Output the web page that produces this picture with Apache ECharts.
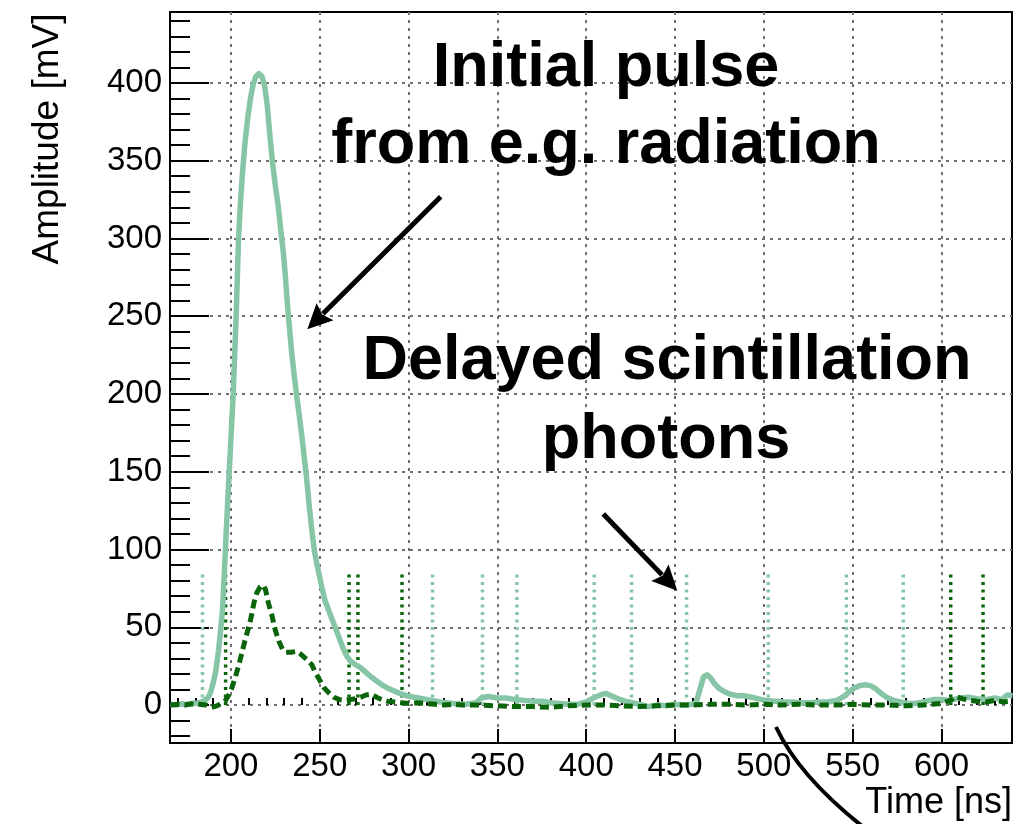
<!DOCTYPE html>
<html><head><meta charset="utf-8">
<script src="https://cdn.jsdelivr.net/npm/echarts@6/dist/echarts.min.js"></script>
<style>html,body{margin:0;padding:0;background:#fff}#chart{width:1016px;height:824px}</style>
</head><body><div id="chart"></div>
<script>
// ---- data ----
const lightPulse = [
[166,0.5],[169,0],[172,0.8],[175,0.3],[178,1],[181,1.2],[183,1.8],[185,2.8],[187,4.5],[188.5,8],[190,14],[191.5,22],[193,35],[194.2,48],[195.3,62],[196.5,90],[197.5,115],[198.5,138],[199.5,160],[200.5,183],[201.3,200],[202.2,228],[203,252],[203.6,275],[204.3,300],[205.3,322],[206.5,342],[207.8,360],[209.5,378],[211,390],[212.5,399],[214,404],[215.8,406],[217.5,404],[219,398],[220.5,385],[222,365],[223.5,348],[225,334],[226.6,321],[228,306],[229.5,291],[230.5,278],[231.5,262],[232.5,248],[234,229],[235.5,213],[237,199],[238.5,186],[240,172],[241.5,157],[242.5,147],[244,129],[245.5,113],[247,99],[248.5,90],[250,82],[251.5,74],[253,67],[255,61],[257,55],[259,49],[261,43],[263,37],[265,32],[267,28.5],[270,26],[273,24],[276,21],[279,18],[282,15.5],[285,13],[288,11],[291,9.5],[295,7.5],[299,6],[303,5],[308,4],[313,3],[318,2],[325,1],[332,0.5],[338,1.5],[341,4.5],[345,5.5],[350,4.5],[355,4.5],[360,3.5],[365,3],[370,2.5],[375,2.5],[380,1.5],[385,1],[390,0.5],[395,0.5],[400,2],[404,4.5],[408,6.5],[411,7.5],[414,6],[418,4],[422,2.5],[426,1.5],[430,0.5],[435,-1],[440,0],[445,-0.5],[450,0.5],[455,0],[460,0.5],[462,2],[464,10],[466,18],[468,19.5],[470,17.5],[472,14],[475,10.5],[478,8.5],[481,7],[485,6],[489,6],[493,5],[497,4],[501,3],[506,2.5],[511,2],[516,2],[521,1.5],[526,1.5],[531,2],[536,2],[541,3],[545,5.5],[548,8.5],[551,11],[554,12.5],[557,13],[560,12.5],[563,10.5],[566,7.5],[569,5],[573,3],[577,2],[581,1],[585,1],[590,2],[595,3.5],[600,3.5],[605,3],[610,4.5],[615,5],[620,4],[625,3.5],[630,4.5],[634,3.5],[637,6.5],[640,6]
];
const darkPulse = [
[166,0],[170,0.5],[174,0],[178,0.8],[182,0.5],[186,0],[189,-1.5],[192,-0.5],[195,1],[197,3],[199,7],[200.5,11],[202.5,18],[204.5,26],[206.5,35],[208,42],[210,50],[211.5,57],[213,66],[214.5,72],[216.5,76],[218.2,77],[219.5,74],[221,66],[223,58],[225,48],[227,41],[229,36],[231,34],[234,34],[237,34.5],[239,33],[241,31],[243,29],[245.5,26],[247.5,21],[250,16],[252.5,11],[255.5,7.5],[258,5],[261,3.5],[264,3],[267,3.5],[270,4],[273,5],[276,6.5],[279,7],[282,5],[285,3.5],[288,2.5],[292,2],[296,1.5],[300,1],[305,1.5],[310,1],[315,0.5],[320,0],[325,0.5],[330,0],[340,0],[350,-0.5],[360,-1],[370,-1],[380,-1.5],[390,-0.5],[400,0],[410,0],[420,-0.5],[430,-1],[440,-0.5],[450,0],[460,0],[470,0.5],[480,0.5],[490,0],[500,0.5],[510,0],[520,0.5],[530,0],[540,0],[550,0.5],[560,0],[570,0],[580,-0.5],[590,0],[600,1],[605,3],[608,5.5],[612,4],[616,3],[620,2.5],[625,2],[630,3],[635,2],[640,2.5]
];
// times of the vertical dotted photon markers
const lightMarkTimes = [184, 313.5, 341.6, 361, 404.5, 425.5, 456.5, 502.5, 546.5, 578.5];
const darkMarkTimes = [197, 266.5, 271.5, 296.3, 605.2, 623.4];
const markHeight = 86;

// axes
const xRange = [165.7, 639.7];
const yRange = [-24.4, 445.6];
const xMajor = [200, 250, 300, 350, 400, 450, 500, 550, 600];
const xMinor = [170,180,190,210,220,230,240,260,270,280,290,310,320,330,340,360,370,380,390,410,420,430,440,460,470,480,490,510,520,530,540,560,570,580,590,610,620,630];
const yMajor = [0, 50, 100, 150, 200, 250, 300, 350, 400];
const yMinor = [-20,-10,10,20,30,40,60,70,80,90,110,120,130,140,160,170,180,190,210,220,230,240,260,270,280,290,310,320,330,340,360,370,380,390,410,420,430,440];

const xTitle = 'Time [ns]';
const yTitle = 'Amplitude [mV]';
const note1 = ['Initial pulse', 'from e.g. radiation'];
const note2 = ['Delayed scintillation', 'photons'];

// ---- styles ----
const LIGHT = '#86c6a6';
const DARK = '#0a650a';
const FONT = "'Liberation Sans', Arial, Helvetica, sans-serif";
const gridLine = { show: true, lineStyle: { color: '#707070', width: 2, type: [3, 5] } };

function markerData(times) {
  const out = [];
  times.forEach(t => { out.push([t, 0], [t, markHeight], [t, null]); });
  return out;
}

function arrow(x1, y1, tx, ty) {
  const dx = tx - x1, dy = ty - y1, len = Math.hypot(dx, dy);
  const ux = dx / len, uy = dy / len, px = -uy, py = ux;
  const hl = 25, hw = 12;
  const bx = tx - ux * hl, by = ty - uy * hl;
  return [
    { type: 'line', shape: { x1: x1, y1: y1, x2: bx + ux * 3, y2: by + uy * 3 },
      style: { stroke: '#000', lineWidth: 5 }, z: 100 },
    { type: 'polygon', shape: { points: [[tx, ty], [bx + px * hw, by + py * hw], [bx + ux * 4, by + uy * 4], [bx - px * hw, by - py * hw]] },
      style: { fill: '#000' }, z: 100 }
  ];
}

const chart = echarts.init(document.getElementById('chart'), null, { renderer: 'canvas' });
const noteFont = 'bold 63px ' + FONT;

chart.setOption({
  animation: false,
  backgroundColor: '#fff',
  grid: { left: 170, right: 4, top: 12, bottom: 81, show: true, borderColor: '#000', borderWidth: 2, backgroundColor: '#fff', outerBoundsMode: 'none', containLabel: false },
  xAxis: [
    { type: 'value', position: 'bottom', min: xRange[0], max: xRange[1],
      axisLine: { show: true, onZero: false, lineStyle: { color: '#000', width: 2 } },
      axisTick: { show: true, inside: true, length: 14, customValues: xMajor, lineStyle: { color: '#000', width: 2 } },
      axisLabel: { show: true, customValues: xMajor, color: '#000', fontSize: 33, fontFamily: FONT, margin: 7 },
      splitLine: gridLine, minorTick: { show: false }, minorSplitLine: { show: false } },
    { type: 'value', position: 'bottom', min: xRange[0], max: xRange[1],
      axisLine: { show: false },
      axisTick: { show: true, inside: true, length: 7, customValues: xMinor, lineStyle: { color: '#000', width: 2 } },
      axisLabel: { show: false }, splitLine: { show: false } }
  ],
  yAxis: [
    { type: 'value', position: 'left', min: yRange[0], max: yRange[1],
      axisLine: { show: true, onZero: false, lineStyle: { color: '#000', width: 2 } },
      axisTick: { show: true, inside: true, length: 39, customValues: yMajor, lineStyle: { color: '#000', width: 2 } },
      axisLabel: { show: true, customValues: yMajor, color: '#000', fontSize: 33, fontFamily: FONT, margin: 8 },
      splitLine: gridLine },
    { type: 'value', position: 'left', min: yRange[0], max: yRange[1],
      axisLine: { show: false },
      axisTick: { show: true, inside: true, length: 20, customValues: yMinor, lineStyle: { color: '#000', width: 2 } },
      axisLabel: { show: false }, splitLine: { show: false } }
  ],
  series: [
    { type: 'line', name: 'light markers', data: markerData(lightMarkTimes), connectNulls: false, symbol: 'none', z: 1,
      lineStyle: { color: LIGHT, width: 3.5, type: [3, 4.5] }, silent: true },
    { type: 'line', name: 'dark markers', data: markerData(darkMarkTimes), connectNulls: false, symbol: 'none', z: 1,
      lineStyle: { color: DARK, width: 3.5, type: [3, 4.5] }, silent: true },
    { type: 'line', name: 'light', data: lightPulse, symbol: 'none', z: 3,
      lineStyle: { color: LIGHT, width: 5.5, join: 'round' } },
    { type: 'line', name: 'dark', data: darkPulse, symbol: 'none', z: 4,
      lineStyle: { color: DARK, width: 5, type: [9, 5] } }
  ],
  graphic: [
    { type: 'text', x: 1012, y: 803, z: 100, style: { text: xTitle, font: '36px ' + FONT, fill: '#000', align: 'right', verticalAlign: 'middle' } },
    { type: 'text', x: 48, y: 139, rotation: Math.PI / 2, z: 100, style: { text: yTitle, font: '37px ' + FONT, fill: '#000', align: 'center', verticalAlign: 'middle' } },
    { type: 'text', x: 606, y: 69, z: 100, style: { text: note1[0], font: noteFont, fill: '#000', align: 'center', verticalAlign: 'middle' } },
    { type: 'text', x: 606, y: 146, z: 100, style: { text: note1[1], font: noteFont, fill: '#000', align: 'center', verticalAlign: 'middle' } },
    { type: 'text', x: 667, y: 362, z: 100, style: { text: note2[0], font: noteFont, fill: '#000', align: 'center', verticalAlign: 'middle' } },
    { type: 'text', x: 666, y: 441, z: 100, style: { text: note2[1], font: noteFont, fill: '#000', align: 'center', verticalAlign: 'middle' } },
    ...arrow(440.7, 196.7, 307.3, 329.3),
    ...arrow(603.3, 514, 677.3, 590.7),
    { type: 'bezierCurve', shape: { x1: 776, y1: 727, cpx1: 799, cpy1: 776, x2: 862, y2: 826 }, style: { stroke: '#000', lineWidth: 4, fill: null }, z: 100 }
  ]
});
</script>
</body></html>
